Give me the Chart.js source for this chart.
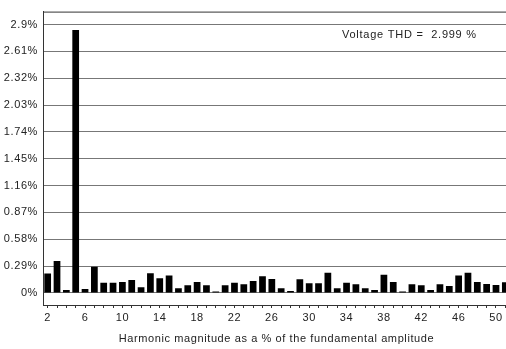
<!DOCTYPE html>
<html>
<head>
<meta charset="utf-8">
<script src="https://cdn.jsdelivr.net/npm/chart.js@4/dist/chart.umd.min.js"></script>
<style>
html,body{margin:0;padding:0;background:#fff;overflow:hidden;}
#wrap{width:510px;height:349px;}
</style>
</head>
<body>
<div id="wrap"><canvas id="c" width="510" height="349"></canvas></div>
<script>
const harmonics = [2,3,4,5,6,7,8,9,10,11,12,13,14,15,16,17,18,19,20,21,22,23,24,25,26,27,28,29,30,31,32,33,34,35,36,37,38,39,40,41,42,43,44,45,46,47,48,49,50,51];
const magnitudes = [0.21,0.345,0.032,2.84,0.043,0.284,0.111,0.111,0.119,0.140,0.061,0.212,0.158,0.190,0.050,0.083,0.119,0.083,0.015,0.083,0.111,0.093,0.129,0.180,0.151,0.050,0.022,0.148,0.104,0.104,0.219,0.050,0.111,0.093,0.050,0.032,0.197,0.119,0.015,0.093,0.083,0.032,0.093,0.075,0.190,0.219,0.119,0.097,0.086,0.115];
const xTickLabels = ['2','6','10','14','18','22','26','30','34','38','42','46','50'];
const yTickValues = [0,0.29,0.58,0.87,1.16,1.45,1.74,2.03,2.32,2.61,2.9];
const yTickLabels = ['0%','0.29%','0.58%','0.87%','1.16%','1.45%','1.74%','2.03%','2.32%','2.61%','2.9%'];
const xTitle = 'Harmonic magnitude as a % of the fundamental amplitude';
const thdText = 'Voltage THD =  2.999 %';

const FONT = "'Liberation Sans', Arial, sans-serif";

const extras = {
  id: 'extras',
  beforeLayout(chart) { chart.ctx.letterSpacing = '0.6px'; },
  beforeDraw(chart) { chart.ctx.letterSpacing = '0.6px'; },
  afterDraw(chart) {
    const {ctx, chartArea} = chart;
    ctx.save();
    ctx.strokeStyle = '#333';
    ctx.lineWidth = 1;
    ctx.beginPath();
    ctx.moveTo(chartArea.left, chartArea.top + 0.5);
    ctx.lineTo(chartArea.right, chartArea.top + 0.5);
    ctx.stroke();
    ctx.fillStyle = '#222';
    ctx.font = '11px ' + FONT;
    ctx.letterSpacing = '0.75px';
    ctx.textAlign = 'left';
    ctx.textBaseline = 'middle';
    ctx.fillText(thdText, 342, 35);
    ctx.restore();
  }
};

new Chart(document.getElementById('c'), {
  type: 'bar',
  data: {
    labels: harmonics.map(String),
    datasets: [{
      data: magnitudes,
      backgroundColor: '#000',
      borderWidth: 0,
      barPercentage: 0.72,
      categoryPercentage: 1.0
    }]
  },
  options: {
    responsive: false,
    animation: false,
    devicePixelRatio: 1,
    layout: { padding: { top: 11, left: 0, right: 0, bottom: 0 } },
    plugins: { legend: { display: false }, tooltip: { enabled: false } },
    scales: {
      x: {
        grid: { display: true, drawOnChartArea: false, drawTicks: true, tickLength: 3, color: '#333', offset: false },
        border: { display: true, color: '#333', width: 1 },
        ticks: {
          autoSkip: false, maxRotation: 0, minRotation: 0, padding: 3,
          color: '#222', font: { family: FONT, size: 11 },
          callback: function(v, i) { const l = String(harmonics[i]); return xTickLabels.includes(l) ? l : ''; }
        },
        title: { display: true, text: xTitle, color: '#222', font: { family: FONT, size: 11 }, padding: { top: 0, bottom: 3 } },
        afterFit: function(s) { s.height = 44; }
      },
      y: {
        min: -0.13, max: 3.04,
        afterBuildTicks: function(s) { s.ticks = yTickValues.map(v => ({ value: v })); },
        grid: { color: '#777', drawTicks: false, lineWidth: 1 },
        border: { display: true, color: '#333', width: 1 },
        ticks: {
          padding: 5, color: '#222', font: { family: FONT, size: 11 },
          callback: function(v) { const i = yTickValues.indexOf(v); return i >= 0 ? yTickLabels[i] : ''; }
        },
        afterFit: function(s) { s.width = 43; }
      }
    }
  },
  plugins: [extras]
});
</script>
</body>
</html>
